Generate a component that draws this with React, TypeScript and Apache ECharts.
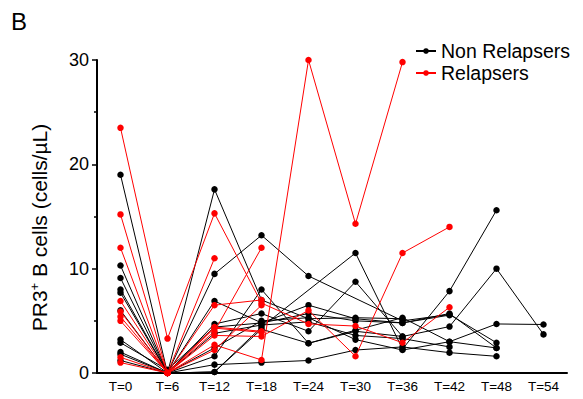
import React, { useEffect, useRef } from "react";
import * as echarts from "echarts";

const timepoints = ["T=0", "T=6", "T=12", "T=18", "T=24", "T=30", "T=36", "T=42", "T=48", "T=54"];

const nonRelapsers: (number | null)[][] = [
  [19.0, 0, 17.6, 7.0, 5.2, 5.3, 5.2, null, null, null],
  [10.3, 0, 9.5, 13.2, 9.3, null, 5.0, 5.6, 2.9, null],
  [9.1, 0, 6.9, 4.8, 6.5, 5.2, 4.8, 5.7, 2.4, null],
  [8.0, 0, 0.1, 4.4, null, 11.5, 2.3, 7.85, 15.6, null],
  [7.7, 0, 4.7, 5.7, 4.0, 8.75, 3.5, 4.45, 10.0, 3.7],
  [6.0, 0, 1.6, 8.0, 2.85, 4.1, 5.3, 3.0, 4.7, 4.65],
  [3.2, 0, 0.8, 1.0, 1.2, 2.2, 2.5, 1.95, 1.6, null],
  [2.9, 0.3, 4.4, 4.8, 5.7, 5.0, 4.8, 5.55, null, null],
  [2.0, 0, 3.8, 4.6, 4.9, 3.6, 3.3, 2.5, null, null],
  [1.8, 0, 2.4, 5.0, 5.3, 3.2, 2.2, 3.0, 2.4, null],
  [1.2, 0, 0.1, 4.2, 2.85, 4.0, 3.5, null, null, null],
];

const relapsers: (number | null)[][] = [
  [23.5, 3.3, 15.3, 6.7, 4.7, 4.5, 2.9, 6.3, null, null],
  [15.2, 0, 11.0, null, null, null, null, null, null, null],
  [12.0, 0, 4.0, 12.0, null, null, null, null, null, null],
  [6.9, 0, 6.5, 7.0, null, null, null, null, null, null],
  [5.9, 0, 2.7, 1.25, 30.0, 14.3, 29.8, null, null, null],
  [5.4, 0, 3.6, 3.5, 6.0, 1.6, 11.5, 14.0, null, null],
  [5.0, 0, 4.3, 3.9, null, null, null, null, null, null],
  [1.5, 0, 2.2, 6.5, null, null, null, null, null, null],
  [1.0, 0, 4.4, 4.0, null, null, null, null, null, null],
];

const yTicks = [0, 10, 20, 30];

const NON = "Non Relapsers";
const REL = "Relapsers";
const FONT = "Liberation Sans, Arial, sans-serif";

function mkSeries(name: string, data: (number | null)[], color: string) {
  return {
    name,
    type: "line",
    data,
    connectNulls: true,
    symbol: "circle",
    symbolSize: 6.5,
    lineStyle: { color, width: 1 },
    itemStyle: { color },
    z: color === "#000000" ? 2 : 3,
  };
}

export default function App() {
  const ref = useRef<HTMLDivElement>(null);
  useEffect(() => {
    if (!ref.current) return;
    const chart = echarts.init(ref.current, undefined, { renderer: "svg" });
    const series = [
      ...nonRelapsers.map((d) => mkSeries(NON, d, "#000000")),
      ...relapsers.map((d) => mkSeries(REL, d, "#ff0000")),
    ];
    chart.setOption({
      animation: false,
      backgroundColor: "#ffffff",
      textStyle: { fontFamily: FONT },
      graphic: [
        {
          type: "text",
          left: 11,
          top: 9,
          style: { text: "B", fontSize: 24, fill: "#000", fontFamily: FONT },
        },
      ],
      legend: {
        data: [NON, REL],
        orient: "vertical",
        right: 8,
        top: 35,
        itemGap: 0,
        itemWidth: 20,
        itemHeight: 7,
        textStyle: { fontSize: 19.5, lineHeight: 22, color: "#000", fontFamily: FONT },
      },
      grid: { left: 97, right: 16, top: 60, bottom: 26, containLabel: false },
      xAxis: {
        type: "category",
        data: timepoints,
        boundaryGap: true,
        axisLine: { lineStyle: { color: "#000", width: 2 } },
        axisTick: { alignWithLabel: true, length: 5, lineStyle: { color: "#000", width: 1.5 } },
        axisLabel: { color: "#000", fontSize: 13.5, margin: 6, interval: 0 },
        splitLine: { show: false },
      },
      yAxis: {
        type: "value",
        min: yTicks[0],
        max: yTicks[yTicks.length - 1],
        interval: 10,
        axisLine: { show: true, lineStyle: { color: "#000", width: 2 } },
        axisTick: { show: true, length: 5, lineStyle: { color: "#000", width: 1.5 } },
        minorTick: { show: true, splitNumber: 2, length: 3, lineStyle: { color: "#000", width: 1.5 } },
        axisLabel: { color: "#000", fontSize: 18, margin: 8 },
        splitLine: { show: false },
        name: "PR3{sup|+} B cells (cells/µL)",
        nameLocation: "middle",
        nameGap: 46,
        nameRotate: 90,
        nameTextStyle: {
          fontSize: 21,
          color: "#000",
          padding: [0, 22, 0, 0],
          rich: {
            sup: { fontSize: 13, verticalAlign: "top", padding: [0, 0, 10, 0], color: "#000" },
          },
        },
      },
      series,
    });
    return () => chart.dispose();
  }, []);
  return <div ref={ref} style={{ width: 583, height: 399, position: "absolute", left: 0, top: 0 }} />;
}
